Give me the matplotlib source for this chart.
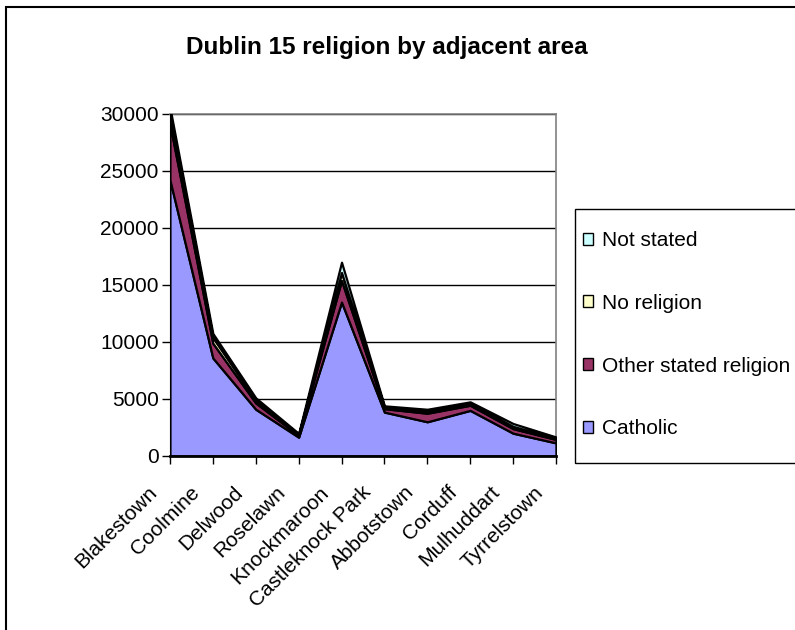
import matplotlib.pyplot as plt
from matplotlib.patches import Patch, Rectangle
from matplotlib.transforms import ScaledTranslation

plt.rcParams['font.family'] = ['Liberation Sans', 'DejaVu Sans']

# Areas and population counts per religion group
areas = ['Blakestown', 'Coolmine', 'Delwood', 'Roselawn', 'Knockmaroon',
         'Castleknock Park', 'Abbotstown', 'Corduff', 'Mulhuddart', 'Tyrrelstown']
catholic = [24200, 8600, 4100, 1650, 13500, 3850, 3000, 4000, 2000, 1150]
other_religion = [4900, 1300, 550, 150, 1900, 300, 750, 450, 400, 300]
no_religion = [1000, 500, 250, 100, 700, 150, 200, 150, 200, 100]
not_stated = [450, 350, 200, 80, 900, 100, 150, 150, 250, 120]

series_names = ['Catholic', 'Other stated religion', 'No religion', 'Not stated']
colors = ['#9999FF', '#993366', '#FFFFCC', '#CCFFFF']
yticks = [0, 5000, 10000, 15000, 20000, 25000, 30000]

fig = plt.figure(figsize=(7.95, 6.3), dpi=100)
ax = fig.add_axes([0.2138, 0.2762, 0.4855, 0.5429])

x = list(range(len(areas)))
ax.stackplot(x, catholic, other_religion, no_religion, not_stated,
             colors=colors, edgecolor='black', linewidth=1.6, zorder=3)

ax.set_xlim(0, len(areas) - 1)
ax.set_ylim(0, 30000)
ax.set_yticks(yticks)
ax.set_yticklabels([str(v) for v in yticks], fontsize=15)
ax.set_xticks(x)
ax.set_xticklabels(areas, rotation=45, ha='right', va='center',
                   rotation_mode='anchor', fontsize=15)
ax.tick_params(axis='both', length=6, width=1, color='black')
ax.tick_params(axis='y', pad=2)
ax.tick_params(axis='x', pad=0)

# push rotated category labels down and left of their ticks
shift = ScaledTranslation(-16 / 100, -25 / 100, fig.dpi_scale_trans)
for lab in ax.get_xticklabels():
    lab.set_transform(lab.get_transform() + shift)

ax.yaxis.grid(True, color='black', linewidth=1)
ax.set_axisbelow(True)
for side in ['top', 'right']:
    ax.spines[side].set_color('#808080')
    ax.spines[side].set_linewidth(1.2)
ax.spines['left'].set_color('black')
ax.spines['bottom'].set_color('black')
ax.spines['bottom'].set_linewidth(2)
ax.spines['bottom'].set_zorder(4)

fig.text(0.486, 0.925, 'Dublin 15 religion by adjacent area', ha='center', va='center',
         fontsize=17.5, fontweight='bold')

# outer chart border
fig.patches.append(Rectangle((6 / 795, -0.05), 1.2, 1.05 - 7 / 630, transform=fig.transFigure,
                             fill=False, edgecolor='black', linewidth=1.5))

# legend box runs off the right edge
fig.patches.append(Rectangle((575 / 795, 1 - 463 / 630), 0.5, 254 / 630,
                             transform=fig.transFigure, fill=False,
                             edgecolor='black', linewidth=1))

handles = [Patch(facecolor=c, edgecolor='black', linewidth=1) for c in colors]
leg = fig.legend(handles[::-1], series_names[::-1], loc='upper left',
                 bbox_to_anchor=(583 / 795, 1 - 231 / 630), fontsize=15,
                 frameon=False, labelspacing=2.1, handlelength=0.5,
                 handleheight=0.5, handletextpad=0.4, borderpad=0,
                 borderaxespad=0)

fig.savefig('out.png', dpi=100)
